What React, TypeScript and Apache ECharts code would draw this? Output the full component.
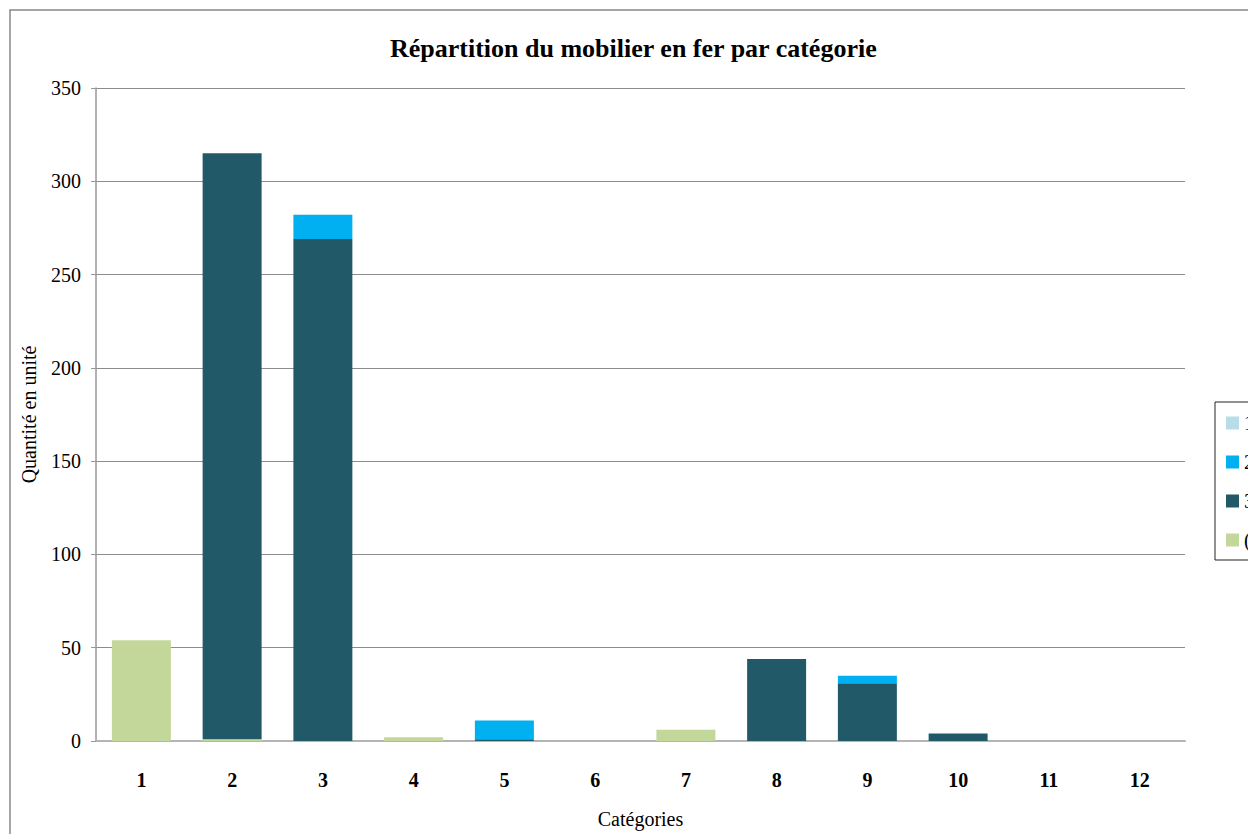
import React, { useEffect, useRef } from "react";
import * as echarts from "echarts";

const categories = ["1", "2", "3", "4", "5", "6", "7", "8", "9", "10", "11", "12"];
const seriesNames = ["(vide)", "3e phase", "2e phase", "1ère phase"];
const greenValues = [54, 1, 0, 2, 0, 0, 6, 0, 0, 0, 0, 0];
const tealValues = [0, 314, 269, 0, 1, 0, 0, 44, 31, 4, 0, 0];
const blueValues = [0, 0, 13, 0, 10, 0, 0, 0, 4, 0, 0, 0];
const lightBlueValues = [0, 0, 0, 0, 0, 0, 0, 0, 0, 0, 0, 0];
const yTicks = { min: 0, max: 350, interval: 50 };

const colors = ["#C4D79B", "#215968", "#00B0F0", "#B7DDE8"];
const FONT = "'Liberation Serif', 'DejaVu Serif', serif";

export default function App() {
  const ref = useRef<HTMLDivElement>(null);
  useEffect(() => {
    document.body.style.margin = "0";
    const chart = echarts.init(ref.current!, null, { renderer: "svg" });
    const values = [greenValues, tealValues, blueValues, lightBlueValues];
    chart.setOption({
      animation: false,
      backgroundColor: "#ffffff",
      title: {
        text: "Répartition du mobilier en fer par catégorie",
        left: 385,
        top: 30,
        textStyle: { fontFamily: FONT, fontSize: 26, fontWeight: "bold", color: "#000" },
      },
      graphic: [
        {
          type: "rect",
          shape: { x: 10, y: 10, width: 1260, height: 860 },
          style: { fill: "none", stroke: "#888", lineWidth: 1.5 },
          silent: true,
        },
      ],
      legend: {
        orient: "vertical",
        left: 1215,
        top: 402,
        padding: [11, 10, 10, 11],
        itemWidth: 13,
        itemHeight: 13,
        itemGap: 19,
        borderColor: "#222",
        borderWidth: 1,
        icon: "rect",
        data: [seriesNames[3], seriesNames[2], seriesNames[1], seriesNames[0]],
        textStyle: { fontFamily: FONT, fontSize: 20, color: "#000" },
      },
      grid: { left: 96, right: 63, top: 88, bottom: 89, containLabel: false },
      xAxis: {
        type: "category",
        data: categories,
        name: "Catégories",
        nameLocation: "middle",
        nameGap: 68,
        nameTextStyle: { fontFamily: FONT, fontSize: 20, color: "#000" },
        axisLine: { lineStyle: { color: "#b5b5b5", width: 2 } },
        axisTick: { show: false },
        axisLabel: { fontFamily: FONT, fontSize: 20, fontWeight: "bold", color: "#000", margin: 29 },
      },
      yAxis: {
        type: "value",
        min: yTicks.min,
        max: yTicks.max,
        interval: yTicks.interval,
        name: "Quantité en unité",
        nameLocation: "middle",
        nameGap: 57,
        nameTextStyle: { fontFamily: FONT, fontSize: 20, color: "#000" },
        axisLine: { show: true, lineStyle: { color: "#999", width: 1.5 } },
        axisTick: { show: true, length: 5, lineStyle: { color: "#999" } },
        axisLabel: { fontFamily: FONT, fontSize: 20, color: "#000", margin: 15 },
        splitLine: { lineStyle: { color: "#8c8c8c", width: 1 } },
      },
      series: values.map((v, i) => ({
        name: seriesNames[i],
        type: "bar",
        stack: "total",
        data: v,
        barCategoryGap: "35%",
        itemStyle: { color: colors[i] },
      })),
    });
    return () => chart.dispose();
  }, []);
  return <div ref={ref} style={{ width: 1248, height: 834 }} />;
}
